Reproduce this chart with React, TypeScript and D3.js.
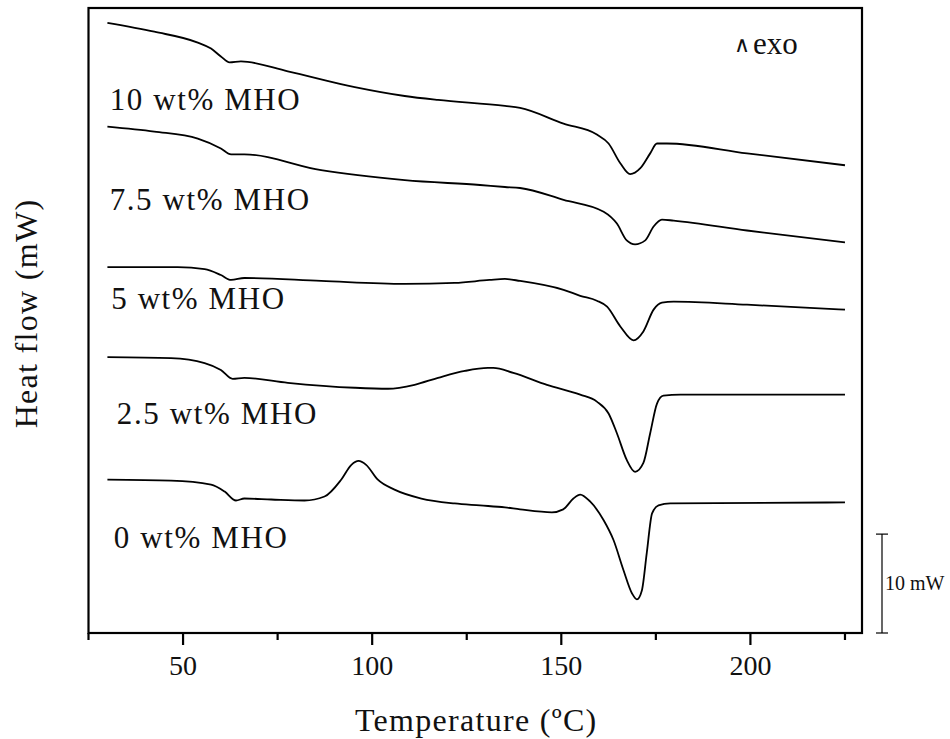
import React from "react";
import * as d3 from "d3";

// DSC curves, [temperature °C, heat flow mW] (offsets as plotted)
const mho10: [number, number][] = [
  [30, 61.7], [42.4, 60.8], [53.9, 59.7], [57.4, 59.1], [60, 58.3], [62.3, 57.7],
  [65.3, 57.8], [77.7, 56.8], [95.4, 55.2], [108.6, 54.3], [117.4, 53.9], [135.1, 53.3],
  [139.1, 53.1], [150.6, 51.5], [159.4, 50.4], [162.5, 49.5], [165.6, 47.5], [168.2, 46.4],
  [170.9, 47.0], [173.5, 48.5], [175.3, 49.5], [177.9, 49.5], [199.1, 48.5], [225, 47.3],
];
const mho75: [number, number][] = [
  [30, 51.2], [42.4, 50.7], [53.9, 50.0], [60, 49.0], [62.7, 48.4], [66.2, 48.4],
  [86.5, 46.8], [108.6, 45.8], [128.5, 45.3], [135.1, 45.1], [139.1, 45.0], [150.6, 43.8],
  [161.2, 42.6], [164.7, 41.4], [167.3, 39.7], [169.5, 39.3], [172.2, 39.7], [174.4, 41.1],
  [176.6, 41.8], [179.7, 41.7], [199.1, 40.7], [225, 39.5],
];
const mho5: [number, number][] = [
  [30, 37.0], [48.6, 37.0], [55.7, 36.8], [60, 36.2], [62.7, 35.7], [66.2, 35.9],
  [86.5, 35.6], [108.6, 35.3], [121.8, 35.4], [131, 35.7], [135.1, 35.8], [139.1, 35.6],
  [150.6, 34.7], [155, 34.1], [159.4, 33.6], [162.1, 33.0], [165.6, 31.0],
  [169.1, 29.6], [171.7, 30.5], [174.4, 32.7], [176.6, 33.4], [179.7, 33.5], [199.1, 33.2],
  [225, 32.7],
];
const mho25: [number, number][] = [
  [30, 27.9], [46.8, 27.8], [55.7, 27.3], [60, 26.6], [63.1, 25.7], [66.2, 25.8],
  [77.7, 25.3], [95.4, 24.8], [104.2, 24.7], [111.2, 25.1], [117.4, 25.8], [124.5, 26.5],
  [130.6, 26.8], [132, 26.8], [137.3, 26.3], [146.2, 25.1], [155, 24.1], [159.4, 23.4],
  [162.5, 22.2], [164.7, 20.2], [167.3, 17.5], [169.5, 16.3], [171.7, 17.2], [173.5, 20.2],
  [175.3, 23.2], [177, 24.0], [181.5, 24.1], [225, 24.1],
];
const mho0: [number, number][] = [
  [30, 15.5], [46.8, 15.4], [57.4, 15.0], [61, 14.3], [64, 13.4], [66.2, 13.6],
  [73.3, 13.5], [82.1, 13.4], [87.4, 13.8], [91.8, 15.5], [94.5, 17.0], [96.4, 17.4],
  [98.4, 17.0], [101.5, 15.5], [105.9, 14.5], [113, 13.6], [121.8, 13.1], [128.5, 12.9],
  [135.1, 12.7], [139.1, 12.5], [147.5, 12.2], [150.5, 12.5], [153.2, 13.6], [155, 14.0],
  [157.6, 13.3], [161.2, 11.4], [163.8, 9.4], [166.4, 6.4], [168.7, 4.0], [170, 3.4],
  [171.3, 4.3], [172.6, 8.1], [174, 12.1], [175.7, 12.9], [178.8, 13.1], [225, 13.2],
];

const seriesNames = ["10 wt% MHO", "7.5 wt% MHO", "5 wt% MHO", "2.5 wt% MHO", "0 wt% MHO"];
const seriesData = [mho10, mho75, mho5, mho25, mho0];
// where each name sits, in data units
const labelAt: [number, number][] = [[30.6, 52.9], [30.6, 42.8], [31.0, 32.8], [32.5, 21.1], [31.7, 8.6]];

const majorTicks = [50, 100, 150, 200];
const minorTicks = [25, 75, 125, 175, 225];
const scaleBarMW = 10;

const W = 950, H = 739;
const left = 88.5, right = 862, top = 8, bottom = 633;
const font = "'Liberation Serif', 'Times New Roman', serif";

export default function App() {
  const x = d3.scaleLinear().domain([25, 229.5]).range([left, right]);
  const y = d3.scaleLinear().domain([0, 63.2]).range([bottom, top]);
  const line = d3.line<[number, number]>()
    .x(d => x(d[0]))
    .y(d => y(d[1]))
    .curve(d3.curveMonotoneX);

  const barX = 882;
  const barTop = y(scaleBarMW);
  const barBot = y(0);

  return (
    <svg width={W} height={H} style={{ position: "absolute", left: 0, top: 0, background: "#fff" }}
      fontFamily={font}>
      <rect x={left} y={top} width={right - left} height={bottom - top} fill="none" stroke="#000" strokeWidth={2.2} />

      {seriesData.map((s, i) => (
        <path key={i} d={line(s) || ""} fill="none" stroke="#000" strokeWidth={1.8} />
      ))}

      {seriesNames.map((n, i) => (
        <text key={n} x={x(labelAt[i][0])} y={y(labelAt[i][1])} fontSize={31} letterSpacing={1.6} fill="#111">{n}</text>
      ))}

      {majorTicks.map(t => (
        <g key={"M" + t}>
          <line x1={x(t)} x2={x(t)} y1={bottom} y2={bottom + 12} stroke="#000" strokeWidth={2.2} />
          <text x={x(t)} y={bottom + 42} textAnchor="middle" fontSize={28} fill="#111">{t}</text>
        </g>
      ))}
      {minorTicks.map(t => (
        <line key={"m" + t} x1={x(t)} x2={x(t)} y1={bottom} y2={bottom + 7} stroke="#000" strokeWidth={2.2} />
      ))}

      <text x={(left + right) / 2 + 1} y={731} textAnchor="middle" fontSize={32} letterSpacing={1.3} fill="#111">
        Temperature (ºC)
      </text>
      <text transform={`translate(37,${(top + bottom) / 2 - 7}) rotate(-90)`} textAnchor="middle" fontSize={32}
        letterSpacing={1.3} fill="#111">
        Heat flow (mW)
      </text>

      <text x={734} y={54} fontSize={31} fill="#111">
        <tspan fontSize={22} dy={-2}>∧</tspan>
        <tspan dy={2} dx={3}>exo</tspan>
      </text>

      <line x1={barX} x2={barX} y1={barTop} y2={barBot} stroke="#000" strokeWidth={1.2} />
      <line x1={barX - 6} x2={barX + 6} y1={barTop} y2={barTop} stroke="#000" strokeWidth={1.2} />
      <line x1={barX - 6} x2={barX + 6} y1={barBot} y2={barBot} stroke="#000" strokeWidth={1.2} />
      <text x={885} y={y(scaleBarMW / 2) + 6} fontSize={20} fill="#111">{scaleBarMW} mW</text>
    </svg>
  );
}
